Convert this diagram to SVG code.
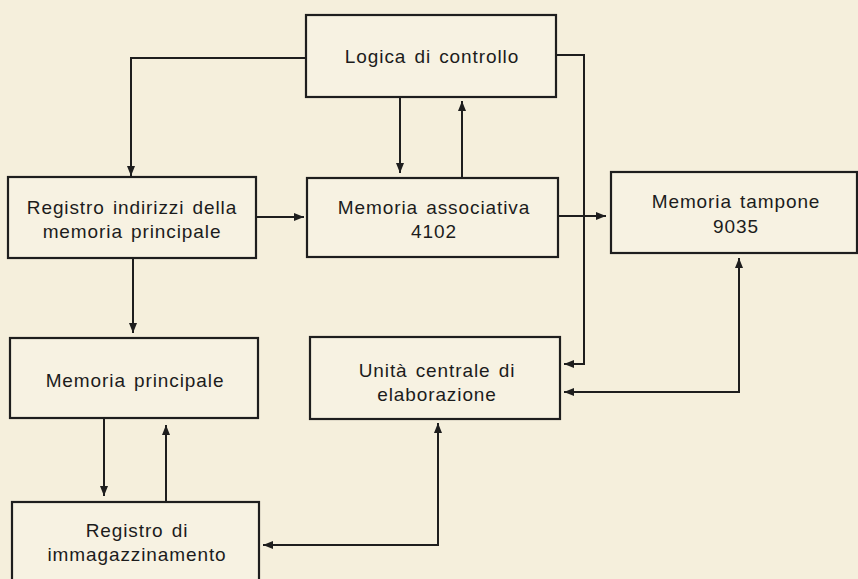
<svg xmlns="http://www.w3.org/2000/svg" width="858" height="579" viewBox="0 0 858 579">
  <style>
    .box { fill: #f7f2e2; stroke: #1e1e1e; stroke-width: 2.2; }
    .lbl { font-family: "Liberation Sans", Arial, sans-serif; font-size: 19px; fill: #1c1c1c; text-anchor: middle; letter-spacing: 0.9px; word-spacing: 2px; }
    .conn { fill: none; stroke: #1e1e1e; stroke-width: 2; }
  </style>
  <defs>
    <marker id="arr" viewBox="0 0 10 8" refX="10" refY="4" markerWidth="10" markerHeight="8" orient="auto-start-reverse" markerUnits="userSpaceOnUse">
      <path d="M0,0 L10,4 L0,8 z" fill="#1e1e1e"/>
    </marker>
  </defs>
  <rect x="0" y="0" width="858" height="579" fill="#f5efdc"/>

  <g id="logica">
    <rect class="box" x="306" y="15" width="250" height="82"/>
    <text class="lbl" x="432" y="63">Logica di controllo</text>
  </g>
  <g id="registro-indirizzi">
    <rect class="box" x="8" y="177" width="248" height="81"/>
    <text class="lbl" x="132" y="214">Registro indirizzi della</text>
    <text class="lbl" x="132" y="238">memoria principale</text>
  </g>
  <g id="memoria-associativa">
    <rect class="box" x="307" y="178" width="251" height="79"/>
    <text class="lbl" x="434" y="214">Memoria associativa</text>
    <text class="lbl" x="434" y="238">4102</text>
  </g>
  <g id="memoria-tampone">
    <rect class="box" x="611" y="172" width="246" height="81"/>
    <text class="lbl" x="736" y="208">Memoria tampone</text>
    <text class="lbl" x="736" y="233">9035</text>
  </g>
  <g id="memoria-principale">
    <rect class="box" x="10" y="338" width="248" height="80"/>
    <text class="lbl" x="135" y="387">Memoria principale</text>
  </g>
  <g id="unita-centrale">
    <rect class="box" x="310" y="337" width="250" height="82"/>
    <text class="lbl" x="437" y="377">Unità centrale di</text>
    <text class="lbl" x="437" y="401">elaborazione</text>
  </g>
  <g id="registro-immagazzinamento">
    <rect class="box" x="12" y="502" width="247" height="90"/>
    <text class="lbl" x="137" y="537">Registro di</text>
    <text class="lbl" x="137" y="561">immagazzinamento</text>
  </g>

  <g id="connectors">
    <path class="conn" d="M306,58 H131 V176" marker-end="url(#arr)"/>
    <path class="conn" d="M400,97 V173" marker-end="url(#arr)"/>
    <path class="conn" d="M462,178 V101" marker-end="url(#arr)"/>
    <path class="conn" d="M256,217 H304" marker-end="url(#arr)"/>
    <path class="conn" d="M558,216 H606" marker-end="url(#arr)"/>
    <path class="conn" d="M556,55 H584 V364 H564" marker-end="url(#arr)"/>
    <path class="conn" d="M564,392 H739 V258" marker-start="url(#arr)" marker-end="url(#arr)"/>
    <path class="conn" d="M133,258 V333" marker-end="url(#arr)"/>
    <path class="conn" d="M104,418 V496" marker-end="url(#arr)"/>
    <path class="conn" d="M166,502 V425" marker-end="url(#arr)"/>
    <path class="conn" d="M263,545 H438 V423" marker-start="url(#arr)" marker-end="url(#arr)"/>
  </g>
</svg>
